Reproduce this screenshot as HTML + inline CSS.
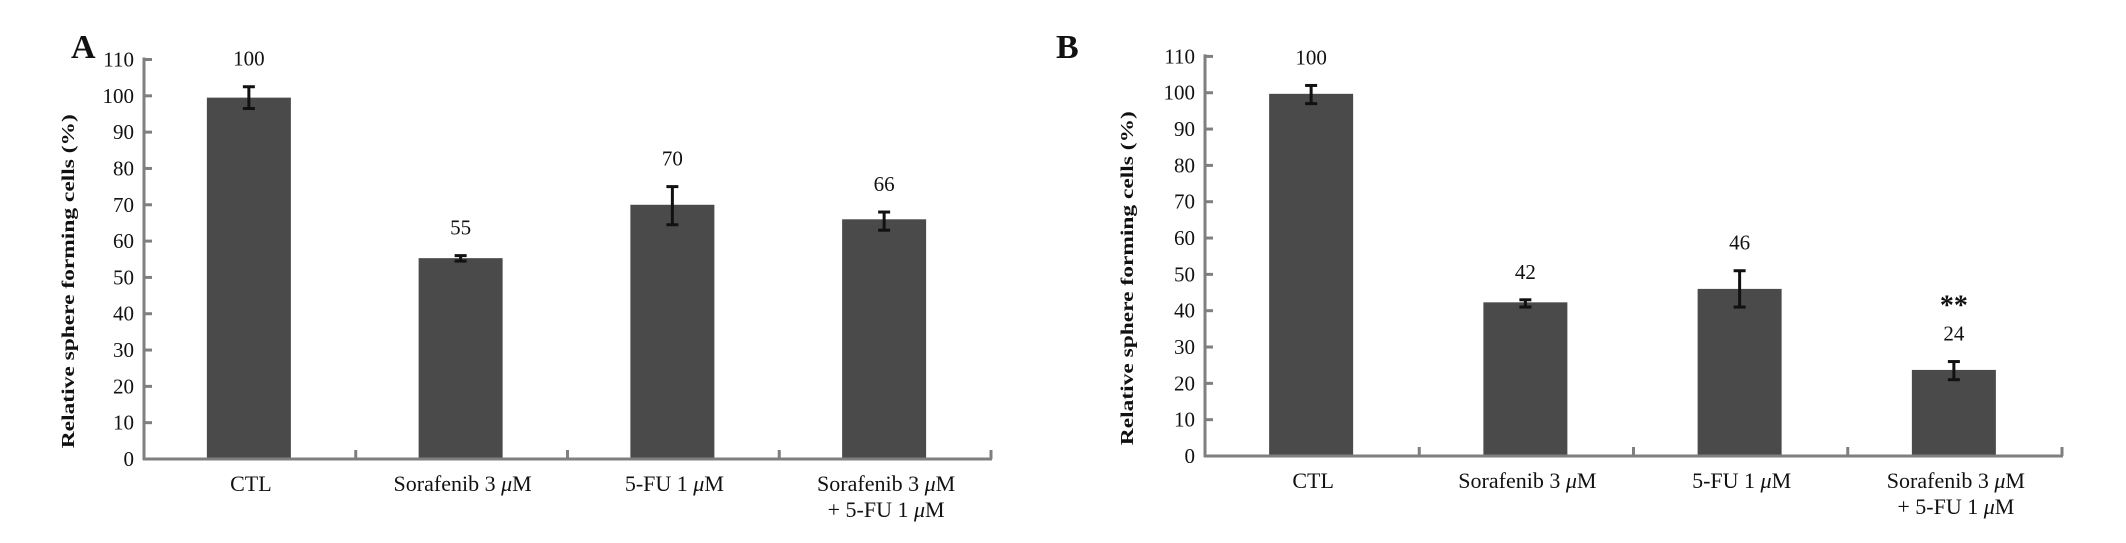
<!DOCTYPE html>
<html><head><meta charset="utf-8"><style>
html,body{margin:0;padding:0;background:#fff;}
svg{display:block;}
text{font-family:"Liberation Serif",serif;fill:#111;}
</style></head><body>
<svg id="chart" width="2126" height="543" viewBox="0 0 2126 543" xmlns="http://www.w3.org/2000/svg"></svg>
<script>
const categories = ["CTL", "Sorafenib 3 \u03bcM", "5-FU 1 \u03bcM", "Sorafenib 3 \u03bcM|+ 5-FU 1 \u03bcM"];
const valuesA = [99.5, 55.3, 70, 66];
const errLowA = [96.5, 54.5, 64.5, 63];
const errHighA = [102.5, 56, 75, 68];
const labelsA = ["100", "55", "70", "66"];
const valuesB = [99.7, 42.3, 46, 23.7];
const errLowB = [97, 41, 41, 21];
const errHighB = [102, 43, 51, 26];
const labelsB = ["100", "42", "46", "24"];
const starsB = ["", "", "", "**"];
const yTicks = [0,10,20,30,40,50,60,70,80,90,100,110];

const NS = "http://www.w3.org/2000/svg";
const svg = document.getElementById("chart");
function mk(tag, attrs, parent){
  const e = document.createElementNS(NS, tag);
  for (const k in attrs) e.setAttribute(k, attrs[k]);
  (parent||svg).appendChild(e);
  return e;
}
function panel(p){
  const g = mk("g", {});
  
  
  const y = v => p.y0 - (v/110)*(p.y0 - p.y110);
  const catW = (p.xEnd - p.x0)/categories.length;
  const cx = i => p.x0 + catW*(i+0.5) - 1;
  const L = mk("text", {x:p.lx, y:p.ly, "font-size":34, "font-weight":"bold"}, g);
  L.textContent = p.letter;
  
  
  p.vals.forEach((v,i)=>{
    const r = mk("rect", {x:cx(i)-42, y:y(v), width:84, height:p.y0-y(v), fill:"#4a4a4a"}, g);
    
    
    const eb = mk("g", {stroke:"#111", "stroke-width":3}, g);
    
    
    mk("line", {x1:cx(i), x2:cx(i), y1:y(p.lo[i]), y2:y(p.hi[i])}, eb);
    mk("line", {x1:cx(i)-6, x2:cx(i)+6, y1:y(p.lo[i]), y2:y(p.lo[i])}, eb);
    mk("line", {x1:cx(i)-6, x2:cx(i)+6, y1:y(p.hi[i]), y2:y(p.hi[i])}, eb);
    const t = mk("text", {x:cx(i), y:y(p.hi[i]) - p.lblGap, "font-size":21, "text-anchor":"middle"}, g);
    t.textContent = p.labels[i];
    
    
    if (p.stars && p.stars[i]) {
      const s = mk("text", {x:cx(i), y:y(p.hi[i]) - p.lblGap - 26, "font-size":28, "font-weight":"bold", "text-anchor":"middle"}, g);
      s.textContent = p.stars[i];
      
      
    }
    const parts = categories[i].split("|");
    parts.forEach((ln,j)=>{
      const c = mk("text", {x:cx(i)+2, y:p.y0+32+j*26, "font-size":22, "text-anchor":"middle"}, g);
      
      
      const segs = ln.split("\u03bc");
      segs.forEach((sg,k)=>{
        if (k>0){ const m = mk("tspan", {"font-style":"italic"}, c); m.textContent = "\u03bc"; }
        const ts = mk("tspan", {}, c); ts.textContent = sg;
      });
    });
  });
  const ax = mk("g", {stroke:"#7f7f7f", "stroke-width":3}, g);
  
  
  mk("line", {x1:p.x0, x2:p.x0, y1:y(110)-2, y2:p.y0+1}, ax);
  mk("line", {x1:p.x0-1, x2:p.xEnd+1, y1:p.y0, y2:p.y0}, ax);
  yTicks.forEach(v=>{
    mk("line", {x1:p.x0, x2:p.x0+8, y1:y(v), y2:y(v)}, ax);
    const t = mk("text", {x:p.x0-10, y:y(v)+7, "font-size":21, "text-anchor":"end"}, g);
    t.textContent = v;
    
    
  });
  for (let i=1;i<=categories.length;i++){
    const xx = p.x0 + catW*i;
    mk("line", {x1:xx, x2:xx, y1:p.y0-9, y2:p.y0}, ax);
  }
  const yt = mk("text", {x:0, y:0, "font-size":18, "font-weight":"bold", "text-anchor":"middle",
    transform:`translate(${p.tx},${(p.y0+p.y110)/2+22}) rotate(-90)`, textLength:334, lengthAdjust:"spacingAndGlyphs"}, g);
  yt.textContent = "Relative sphere forming cells  (%)";
  
  
}
panel({letter:"A", lx:71, ly:58, x0:144, xEnd:991, y0:459, y110:59.5, vals:valuesA, lo:errLowA, hi:errHighA, labels:labelsA, lblGap:21, tx:74});
panel({letter:"B", lx:1056, ly:58, x0:1205, xEnd:2062, y0:456, y110:56.4, vals:valuesB, lo:errLowB, hi:errHighB, labels:labelsB, stars:starsB, lblGap:21, tx:1133});
</script>
</body></html>
